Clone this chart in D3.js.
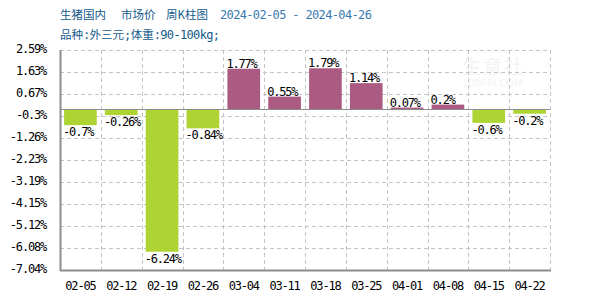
<!DOCTYPE html>
<html>
<head>
<meta charset="utf-8">
<script src="https://cdn.jsdelivr.net/npm/d3@7"></script>
<style>
	body { margin: 0; background: #fff; }
	svg text { font-family: "DejaVu Sans Mono", "Liberation Mono", monospace; }
</style>
</head>
<body>
<svg id="chart" width="600" height="300"></svg>
<script>
// weekly pig price change, Feb - Apr 2024
const weeks = ["02-05", "02-12", "02-19", "02-26", "03-04", "03-11", "03-18", "03-25", "04-01", "04-08", "04-15", "04-22"];
const changes = [-0.7, -0.26, -6.24, -0.84, 1.77, 0.55, 1.79, 1.14, 0.07, 0.2, -0.6, -0.2];
const yTicks = [2.59, 1.63, 0.67, -0.3, -1.26, -2.23, -3.19, -4.15, -5.12, -6.08, -7.04];

const PLOT_LEFT = 60, PLOT_RIGHT = 550, PLOT_TOP = 50, PLOT_BOTTOM = 270;
const UP_COLOR = "#ab5a82", DOWN_COLOR = "#add433";
const MONO = "'DejaVu Sans Mono', 'Liberation Mono', monospace";
const CJK = "'Noto Sans CJK SC', sans-serif";
const TITLE_COLOR = "#13598a", DATE_COLOR = "#3a7ab2";

let svg = d3.select("svg#chart");

// title line: pieces placed one after the other like the original
let title = svg.append("text")
	.attr("y", 19)
	.attr("fill", TITLE_COLOR)
	.style("font-family", CJK)
	.style("font-size", "11.5px")
	;
title.append("tspan").attr("x", 60).text("生猪国内");
title.append("tspan").attr("x", 121).text("市场价");
title.append("tspan").attr("x", 166).text("周K柱图");
title.append("tspan")
	.attr("x", 220)
	.text("2024-02-05 - 2024-04-26")
	.attr("fill", DATE_COLOR)
	.style("font-family", MONO)
	.style("font-size", "12px")
	.style("letter-spacing", "-0.65px")
	;

let sub = svg.append("text")
	.attr("x", PLOT_LEFT)
	.attr("y", 39)
	.attr("fill", TITLE_COLOR)
	.style("font-family", CJK)
	.style("font-size", "11.5px")
	;
sub.append("tspan").text("品种");
sub.append("tspan").text(":").style("font-family", MONO).style("font-size", "12px").style("letter-spacing", "-0.65px");
sub.append("tspan").text("外三元");
sub.append("tspan").text(";").style("font-family", MONO).style("font-size", "12px").style("letter-spacing", "-0.65px");
sub.append("tspan").text("体重");
sub.append("tspan").text(":90-100kg;").style("font-family", MONO).style("font-size", "12px").style("letter-spacing", "-0.65px");

let y = d3.scaleLinear()
	.domain([d3.min(yTicks), d3.max(yTicks)])
	.range([PLOT_BOTTOM, PLOT_TOP]);

let x = d3.scaleBand()
	.domain(weeks)
	.range([PLOT_LEFT, PLOT_RIGHT])
	.paddingInner(0.2)
	.paddingOuter(0.1);

let step = x.step();

// faint watermark
svg.append("text")
	.text("生意社")
	.attr("x", 462)
	.attr("y", 74)
	.attr("fill", "#f3f3f3")
	.style("font-size", "19px")
	.style("font-family", CJK)
	.style("letter-spacing", "2px")
	;
svg.append("text")
	.text("100PPI.COM")
	.attr("x", 462)
	.attr("y", 87)
	.attr("fill", "#f3f3f3")
	.style("font-size", "10px")
	.style("font-family", "'DejaVu Sans', sans-serif")
	;

// dashed grid
let grid = svg.append("g").attr("stroke", "#c4c4c4").attr("stroke-dasharray", "4,3");
grid.selectAll("line.h")
	.data(yTicks)
	.join("line")
	.attr("class", "h")
	.attr("x1", PLOT_LEFT)
	.attr("x2", PLOT_RIGHT)
	.attr("y1", d => Math.round(y(d)) + 0.5)
	.attr("y2", d => Math.round(y(d)) + 0.5)
	;
grid.selectAll("line.v")
	.data(d3.range(1, weeks.length + 1))
	.join("line")
	.attr("class", "v")
	.attr("x1", i => Math.round(PLOT_LEFT + i * step) + 0.5)
	.attr("x2", i => Math.round(PLOT_LEFT + i * step) + 0.5)
	.attr("y1", PLOT_TOP)
	.attr("y2", PLOT_BOTTOM)
	;

// bars
svg.selectAll("rect.bar")
	.data(changes)
	.join("rect")
	.attr("class", "bar")
	.attr("x", (d, i) => x(weeks[i]))
	.attr("y", d => y(Math.max(0, d)))
	.attr("width", x.bandwidth())
	.attr("height", d => Math.max(1, Math.abs(y(d) - y(0))))
	.attr("fill", d => d >= 0 ? UP_COLOR : DOWN_COLOR)
	;

// zero line
svg.append("line")
	.attr("x1", PLOT_LEFT)
	.attr("x2", PLOT_RIGHT)
	.attr("y1", Math.round(y(0)) + 0.5)
	.attr("y2", Math.round(y(0)) + 0.5)
	.attr("stroke", "#8c8c8c")
	;

// axes lines
svg.append("line")
	.attr("x1", PLOT_LEFT + 0.5).attr("x2", PLOT_LEFT + 0.5)
	.attr("y1", PLOT_TOP).attr("y2", PLOT_BOTTOM + 1)
	.attr("stroke", "#8c8c8c").attr("stroke-width", 2)
	;
svg.append("line")
	.attr("x1", PLOT_LEFT).attr("x2", PLOT_RIGHT + 1)
	.attr("y1", PLOT_BOTTOM + 0.5).attr("y2", PLOT_BOTTOM + 0.5)
	.attr("stroke", "#8c8c8c").attr("stroke-width", 2)
	;

// bar value labels
svg.selectAll("text.val")
	.data(changes)
	.join("text")
	.attr("class", "val")
	.text(d => d + "%")
	.attr("x", (d, i) => x(weeks[i]) - 1)
	.attr("y", d => d >= 0 ? y(d) - 1 : y(d) + 11)
	.attr("fill", "#000")
	.style("font-family", MONO)
	.style("font-size", "12px")
	.style("letter-spacing", "-1.2px")
	;

// y tick labels
svg.selectAll("text.ytick")
	.data(yTicks)
	.join("text")
	.attr("class", "ytick")
	.text(d => d + "%")
	.attr("x", 46)
	.attr("y", d => y(d) + 3)
	.attr("text-anchor", "end")
	.attr("fill", "#000")
	.style("font-family", MONO)
	.style("font-size", "12px")
	.style("letter-spacing", "-1.2px")
	;

// x tick labels
svg.selectAll("text.xtick")
	.data(weeks)
	.join("text")
	.attr("class", "xtick")
	.text(d => d)
	.attr("x", d => x(d) + x.bandwidth() / 2)
	.attr("y", 290)
	.attr("text-anchor", "middle")
	.attr("fill", "#000")
	.style("font-family", MONO)
	.style("font-size", "12px")
	.style("letter-spacing", "-1.2px")
	;
</script>
</body>
</html>
